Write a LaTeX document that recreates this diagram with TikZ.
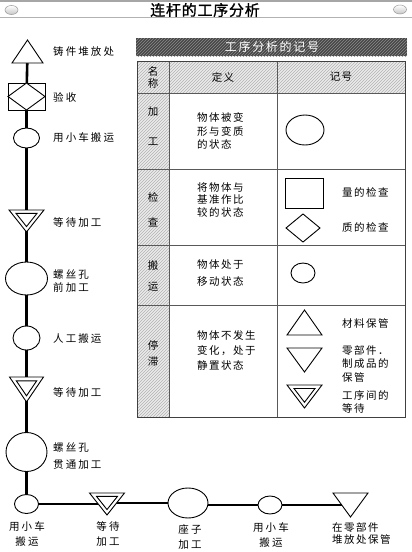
\documentclass[tikz,border=0pt]{standalone}
\usepackage{fontspec}
\newfontfamily\cjk[LetterSpace=20]{Noto Sans CJK SC}
\newfontfamily\cjkn[LetterSpace=14]{Noto Sans CJK SC}
\newfontfamily\cjkt[LetterSpace=5,FakeBold=1.2]{Noto Sans CJK SC}
\usetikzlibrary{shapes.geometric,calc,backgrounds,patterns}
\newcommand\uptri[1]{\draw[shp] (#1.south west) -- (#1.south east) -- (#1.north) -- cycle;}
\newcommand\dntri[1]{\draw[shp] (#1.north west) -- (#1.north east) -- (#1.south) -- cycle;}
\newcommand\dbltri[1]{\dntri{#1}
  \coordinate (#1-g) at ($(#1.north)!0.38!(#1.south)$);
  \draw[shp] ($(#1-g)!0.6!(#1.north west)$) -- ($(#1-g)!0.6!(#1.north east)$) -- ($(#1-g)!0.6!(#1.south)$) -- cycle;}
\newcommand\diam[1]{\draw[shp] (#1.north) -- (#1.east) -- (#1.south) -- (#1.west) -- cycle;}
\begin{document}
\begin{tikzpicture}[x=1pt,y=-1pt,
  shp/.style={draw=black, line width=0.9pt, fill=white, line join=miter},
  tbox/.style={inner sep=0pt, outer sep=0pt, minimum width=#1},
  ell/.style={ellipse, shp, inner sep=0pt, outer sep=0pt},
  rbox/.style={rectangle, shp, inner sep=0pt, outer sep=0pt},
  lbl/.style={font=\cjk\fontsize{10.5}{14}\selectfont, anchor=west, inner sep=0pt},
  blbl/.style={font=\cjk\fontsize{10.5}{15}\selectfont, align=center, inner sep=0pt},
  tlbl/.style={font=\cjkn\fontsize{10.5}{13.5}\selectfont, align=left, anchor=west, inner sep=0pt},
  ctxt/.style={font=\cjkn\fontsize{10.5}{13}\selectfont, inner sep=0pt},
  flow/.style={line width=2.6pt, line cap=butt},
  hflow/.style={line width=2pt},
  grid/.style={draw=black!65, line width=0.8pt}
]
\useasboundingbox (0,0) rectangle (412,552);
% ---------- title bar ----------
\draw[gray!70, line width=1.6pt] (0,1) -- (412,1);
\draw[gray!60, line width=0.8pt] (0,17.5) -- (412,17.5);
\node[ellipse, draw=gray!80, line width=0.5pt, inner sep=0pt, minimum width=13, minimum height=9, top color=white, bottom color=gray!45] (pl) at (11.5,10) {};
\node[ellipse, draw=gray!80, line width=0.5pt, inner sep=0pt, minimum width=13, minimum height=9, top color=white, bottom color=gray!45] (pr) at (400,9.5) {};
\node[font=\cjkt\fontsize{15}{18}\selectfont, inner sep=0pt] (title) at (205,10) {连杆的工序分析};
% ---------- table heading bar ----------
\fill[black!72] (136,38) rectangle (407,56);
\fill[pattern=north east lines, pattern color=black!45] (136,38) rectangle (407,56);
\node[font=\cjkn\fontsize{12}{14}\selectfont, text=white, inner sep=0pt] (thead) at (272,47) {工序分析的记号};
% ---------- table ----------
\fill[gray!16] (137,61) rectangle (405,93);
\fill[gray!16] (137,93) rectangle (169,417);
\fill[pattern=north east lines, pattern color=gray!60] (137,61) rectangle (405,93);
\fill[pattern=north east lines, pattern color=gray!60] (137,93) rectangle (169,417);
\draw[grid] (169,61) -- (169,417);
\draw[grid] (277,61) -- (277,417);
\draw[grid] (137,93) -- (405,93);
\draw[grid] (137,169) -- (405,169);
\draw[grid] (137,245) -- (405,245);
\draw[grid] (137,305) -- (405,305);
\draw[draw=black!75, line width=1pt] (137,61) rectangle (405,417);
% header
\node[ctxt] (h1a) at (153,71) {名};
\node[ctxt] (h1b) at (153,84) {称};
\node[ctxt] (h2) at (223,77) {定义};
\node[ctxt] (h3) at (341,77) {记号};
% name column
\node[ctxt] (n1a) at (153,112) {加};
\node[ctxt] (n1b) at (153,142) {工};
\node[ctxt] (n2a) at (153,197) {检};
\node[ctxt] (n2b) at (153,222) {查};
\node[ctxt] (n3a) at (153,265) {搬};
\node[ctxt] (n3b) at (153,287) {运};
\node[ctxt] (n4a) at (153,345) {停};
\node[ctxt] (n4b) at (153,362) {滞};
% definitions
\node[tlbl, font=\cjkn\fontsize{10.5}{13.5}\selectfont] (d1) at (197,131) {物体被变\\形与变质\\的状态};
\node[tlbl, font=\cjkn\fontsize{10.5}{12.5}\selectfont] (d2) at (197,200) {将物体与\\基准作比\\较的状态};
\node[tlbl, font=\cjkn\fontsize{10.5}{17}\selectfont] (d3) at (197,273.5) {物体处于\\移动状态};
\node[tlbl, font=\cjkn\fontsize{10.5}{15}\selectfont] (d4) at (197,350) {物体不发生\\变化，处于\\静置状态};
% symbols
\node[ell, minimum width=38, minimum height=30] (k1) at (305,130) {};
\node[rbox, minimum width=38, minimum height=30] (k2) at (304,193) {};
\node[tbox=34, minimum height=28] (k3) at (303,228) {};
\diam{k3}
\node[ell, minimum width=24, minimum height=20] (k4) at (303,273) {};
\node[tbox=35, minimum height=25] (k5) at (304.5,322.5) {};
\uptri{k5}
\node[tbox=35, minimum height=24] (k6) at (304.5,360) {};
\dntri{k6}
\node[tbox=35, minimum height=23] (k7) at (304.5,396.5) {};
\dbltri{k7}
\node[tlbl] (s2) at (342,192) {量的检查};
\node[tlbl] (s3) at (342,227) {质的检查};
\node[tlbl] (s5) at (342,323) {材料保管};
\node[tlbl, font=\cjkn\fontsize{10.5}{13.5}\selectfont] (s6) at (342,363.5) {零部件．\\制成品的\\保管};
\node[tlbl, font=\cjkn\fontsize{10.5}{13}\selectfont] (s7) at (342,401.5) {工序间的\\等待};
% ---------- flow: vertical ----------
\node[tbox=31, minimum height=23] (tA) at (27.5,51.5) {};
\uptri{tA}
\node[rbox, minimum width=37, minimum height=27] (sq) at (26.5,96.5) {};
\diam{sq}
\node[ell, minimum width=26, minimum height=20] (c1) at (26.5,138) {};
\node[tbox=35, minimum height=22] (w1) at (26.5,221) {};
\dbltri{w1}
\node[ell, minimum width=42, minimum height=33] (e1) at (26.5,278.5) {};
\node[ell, minimum width=27, minimum height=24] (c2) at (26.5,338) {};
\node[tbox=34, minimum height=25] (w2) at (26.5,389.5) {};
\dbltri{w2}
\node[ell, minimum width=41, minimum height=39] (e2) at (26.5,452) {};
\node[ell, minimum width=24, minimum height=19] (c3) at (26.5,504) {};
% ---------- flow: horizontal ----------
\node[tbox=35, minimum height=22] (w3) at (107,504) {};
\dbltri{w3}
\node[ell, minimum width=40, minimum height=30] (e3) at (188,503) {};
\node[ell, minimum width=24, minimum height=18] (c4) at (270,505) {};
\node[tbox=35, minimum height=24] (tB) at (350.5,505) {};
\dntri{tB}
% connectors
\begin{scope}[on background layer]
\draw[flow] (tA.center) -- (sq.center) -- (c1.center) -- (w1.center) -- (e1.center) -- (c2.center) -- (w2.center) -- (e2.center) -- (c3.center);
\draw[hflow] (c3.center) -- (w3.center) -- (e3.center -| w3.center) -- (e3.center) -- (c4.center -| e3.center) -- (c4.center) -- (tB.center -| c4.center) -- (tB.center);
\end{scope}
% labels left
\node[lbl] (L1) at (53,52) {铸件堆放处};
\node[lbl] (L2) at (53,97) {验收};
\node[lbl] (L3) at (53,138) {用小车搬运};
\node[lbl] (L4) at (53,222) {等待加工};
\node[lbl, align=left, font=\cjk\fontsize{10.5}{13}\selectfont] (L5) at (53,281.5) {螺丝孔\\前加工};
\node[lbl] (L6) at (53,338) {人工搬运};
\node[lbl] (L7) at (53,392) {等待加工};
\node[lbl, align=left, font=\cjk\fontsize{10.5}{17}\selectfont] (L8) at (53,456.5) {螺丝孔\\贯通加工};
% labels bottom
\node[blbl, anchor=north] (B1) at (27,521) {用小车\\搬运};
\node[blbl, anchor=north] (B2) at (108,521) {等待\\加工};
\node[blbl, anchor=north] (B3) at (190,524) {座子\\加工};
\node[blbl, anchor=north] (B4) at (271,522) {用小车\\搬运};
\node[blbl, anchor=north west, align=left, font=\cjkn\fontsize{10.5}{12.5}\selectfont] (B5) at (332,522) {在零部件\\堆放处保管};
\end{tikzpicture}
\end{document}
